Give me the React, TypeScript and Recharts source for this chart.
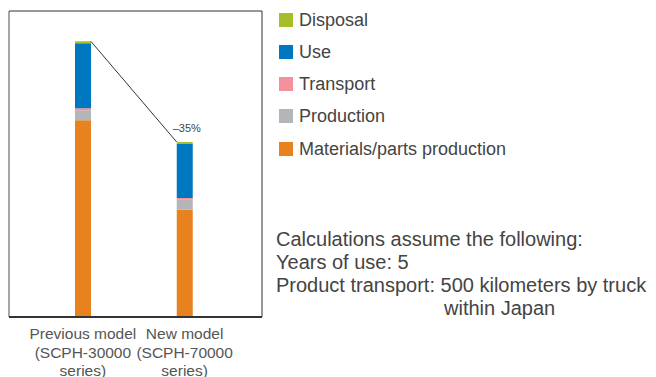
import React from 'react';
import { ComposedChart, Bar, XAxis, YAxis, ReferenceLine, LabelList, Legend, CartesianGrid } from 'recharts';

const categories = ['prev', 'new'];
const tickLines = [
  ['Previous model', '(SCPH-30000', 'series)'],
  ['New model', '(SCPH-70000', 'series)'],
];
const materials = [71.4, 38.9];
const production = [3.6, 3.6];
const transport = [0.7, 0.7];
const use = [23.6, 19.6];
const disposal = [0.7, 0.7];
const changeLabels = ['', '–35%'];

const seriesKeys = ['materials', 'production', 'transport', 'use', 'disposal'];
const seriesNames = ['Materials/parts production', 'Production', 'Transport', 'Use', 'Disposal'];
const seriesColors = ['#e8821f', '#b4b5b9', '#f4909c', '#0078c1', '#a5be2a'];

const notes = [
  'Calculations assume the following:',
  'Years of use: 5',
  'Product transport: 500 kilometers by truck',
];
const notesIndent = 'within Japan';

const FONT = '"Liberation Sans", Arial, sans-serif';
const BAR_SIZE = 16;

const data = categories.map((c, i) => ({
  cat: c,
  materials: materials[i],
  production: production[i],
  transport: transport[i],
  use: use[i],
  disposal: disposal[i],
  total: materials[i] + production[i] + transport[i] + use[i] + disposal[i],
  label: changeLabels[i],
}));

const Tick = (props: any) => {
  const { x, y, payload } = props;
  const idx = categories.indexOf(payload.value);
  const lines = tickLines[idx] || [];
  return (
    <text x={x} y={y} textAnchor="middle" fill="#555" fontSize={15.5} fontFamily={FONT}>
      {lines.map((l, i) => (
        <tspan key={i} x={x} dy={i === 0 ? 22 : 18.5}>
          {l}
        </tspan>
      ))}
    </text>
  );
};

const ChangeLabel = (props: any) => {
  const vb = props.viewBox || props;
  const { value } = props;
  if (!value) return null;
  return (
    <text
      x={vb.x + vb.width / 2 + 2}
      y={vb.y - 10}
      textAnchor="middle"
      fill="#444"
      fontSize={11}
      fontFamily={FONT}
    >
      {value}
    </text>
  );
};

const LegendContent = () => {
  const items = seriesNames.map((n, i) => ({ n, c: seriesColors[i] })).reverse();
  return (
    <div style={{ fontFamily: FONT }}>
      {items.map((it) => (
        <div key={it.n} style={{ display: 'flex', alignItems: 'center', height: 32.25 }}>
          <div style={{ width: 14, height: 14, background: it.c, flexShrink: 0 }} />
          <span style={{ marginLeft: 6, fontSize: 18, lineHeight: '18px', color: '#444', whiteSpace: 'nowrap' }}>
            {it.n}
          </span>
        </div>
      ))}
    </div>
  );
};

export default function App() {
  return (
    <div style={{ position: 'absolute', left: 0, top: 0, width: 656, height: 377, background: '#fff', overflow: 'hidden' }}>
      <ComposedChart
        width={656}
        height={377}
        data={data}
        margin={{ top: 11, left: 9, right: 394, bottom: 0 }}
        barSize={BAR_SIZE}
      >
        <CartesianGrid
          horizontal={false}
          stroke="#888"
          strokeWidth={1.5}
          verticalCoordinatesGenerator={(p: any) => [p.offset.left]}
        />
        <CartesianGrid
          stroke="#333"
          strokeWidth={1}
          verticalCoordinatesGenerator={(p: any) => [p.offset.left + p.offset.width]}
          horizontalCoordinatesGenerator={(p: any) => [p.offset.top]}
        />
        <XAxis
          dataKey="cat"
          height={60}
          padding={{ left: 23, right: 26.5 }}
          tickLine={false}
          tickSize={0}
          tickMargin={0}
          tick={<Tick />}
          axisLine={{ stroke: '#333', strokeWidth: 2 }}
          interval={0}
        />
        <YAxis hide domain={[0, 111]} allowDataOverflow />
        {seriesKeys.map((k, i) => (
          <Bar
            key={k}
            dataKey={k}
            name={seriesNames[i]}
            stackId="a"
            fill={seriesColors[i]}
            isAnimationActive={false}
          >
            {k === 'disposal' ? <LabelList dataKey="label" content={<ChangeLabel />} /> : null}
          </Bar>
        ))}
        <ReferenceLine
          segment={[
            { x: data[0].cat, y: data[0].total },
            { x: data[1].cat, y: data[1].total },
          ]}
          stroke="#333"
          ifOverflow="visible"
          shape={(p: any) => (
            <line
              x1={p.x1 + BAR_SIZE / 2}
              y1={p.y1}
              x2={p.x2 - BAR_SIZE / 2}
              y2={p.y2}
              stroke="#333"
              strokeWidth={1}
            />
          )}
        />
        <Legend
          layout="vertical"
          align="center"
          verticalAlign="middle"
          content={<LegendContent />}
          wrapperStyle={{ left: 279, top: 3.6, width: 300, height: 170 }}
        />
      </ComposedChart>
      <div
        style={{
          position: 'absolute',
          left: 276,
          top: 228,
          fontFamily: FONT,
          fontSize: 20,
          lineHeight: '23px',
          color: '#444',
          whiteSpace: 'nowrap',
        }}
      >
        {notes.map((n) => (
          <div key={n}>{n}</div>
        ))}
        <div style={{ paddingLeft: 168 }}>{notesIndent}</div>
      </div>
    </div>
  );
}
